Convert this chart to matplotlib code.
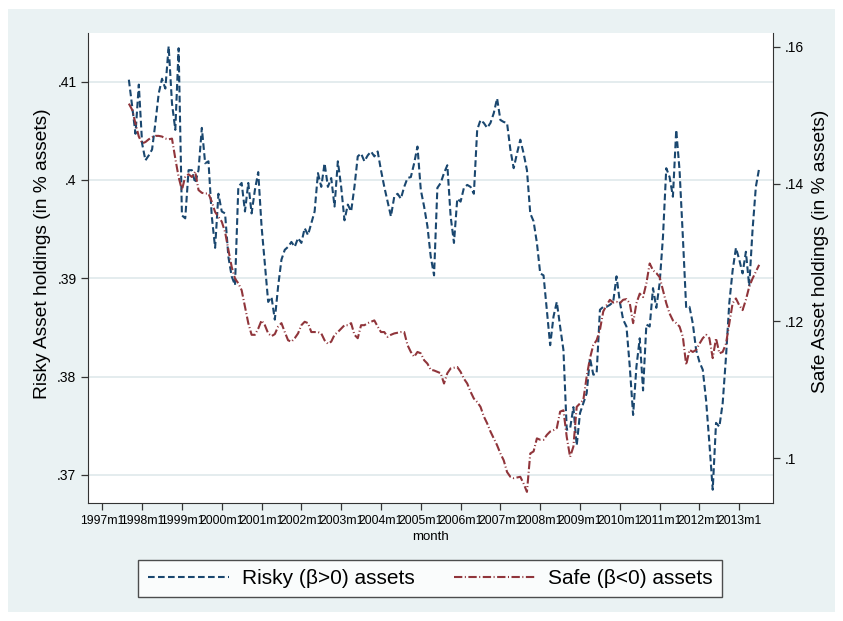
import pandas as pd
import matplotlib.pyplot as plt
from matplotlib.patches import Rectangle

plt.rcParams['font.family'] = ['Liberation Sans', 'DejaVu Sans']

# monthly observations, 1997m9 .. 2013m7
start_month = "1997-09"

risky = [
    .4102, .4075, .4047, .4097, .4037, .4020, .4025, .4031, .4058, .4088,
    .4103, .4093, .4136, .4078, .4051, .4134, .3964, .3961, .4010, .4010,
    .3997, .4010, .4053, .4017, .4019, .3963, .3931, .3986, .3968, .3966,
    .3922, .3902, .3893, .3993, .3997, .3968, .3997, .3966, .3990, .4008,
    .3953, .3915, .3876, .3881, .3858, .3892, .3919, .3929, .3932, .3937,
    .3932, .3941, .3936, .3951, .3944, .3956, .3968, .4007, .3993, .4017,
    .3993, .4002, .3973, .4019, .3993, .3959, .3975, .3968, .3993, .4024,
    .4027, .4019, .4025, .4029, .4024, .4029, .4010, .3993, .3978, .3963,
    .3983, .3986, .3981, .3993, .4002, .4003, .4017, .4034, .3990, .3973,
    .3953, .3922, .3903, .3992, .3997, .4007, .4015, .3963, .3936, .3981,
    .3978, .3992, .3995, .3993, .3986, .4051, .4061, .4058, .4053, .4058,
    .4068, .4083, .4061, .4059, .4058, .4031, .4012, .4027, .4041, .4027,
    .4010, .3966, .3958, .3936, .3905, .3903, .3868, .3832, .3861, .3876,
    .3851, .3827, .3746, .3747, .3769, .3730, .3763, .3773, .3783, .3819,
    .3802, .3803, .3868, .3871, .3871, .3873, .3876, .3902, .3876, .3858,
    .3851, .3810, .3761, .3810, .3839, .3786, .3853, .3851, .3890, .3870,
    .3895, .3942, .4012, .4003, .3983, .4051, .4010, .3942, .3870, .3871,
    .3854, .3827, .3815, .3807, .3776, .3732, .3685, .3753, .3749, .3773,
    .3820, .3875, .3908, .3931, .3919, .3905, .3927, .3892, .3949, .3993,
    .4012,
]

safe = [
    .1517, .1508, .1488, .1469, .1459, .1461, .1465, .1468, .1470, .1470,
    .1469, .1466, .1465, .1466, .1437, .1410, .1391, .1411, .1414, .1410,
    .1418, .1391, .1387, .1386, .1386, .1374, .1359, .1352, .1345, .1330,
    .1304, .1279, .1262, .1255, .1245, .1221, .1197, .1180, .1180, .1189,
    .1201, .1194, .1182, .1178, .1181, .1192, .1197, .1184, .1172, .1170,
    .1175, .1182, .1194, .1199, .1197, .1184, .1184, .1184, .1182, .1172,
    .1167, .1170, .1180, .1184, .1189, .1194, .1194, .1197, .1180, .1175,
    .1194, .1194, .1197, .1199, .1201, .1192, .1184, .1184, .1177, .1180,
    .1182, .1183, .1184, .1184, .1165, .1155, .1148, .1155, .1153, .1143,
    .1138, .1129, .1128, .1126, .1124, .1109, .1124, .1131, .1132, .1133,
    .1126, .1116, .1109, .1097, .1087, .1082, .1075, .1061, .1051, .1039,
    .1029, .1019, .1007, .0997, .0980, .0973, .0971, .0972, .0973, .0963,
    .0951, .1007, .1010, .1029, .1027, .1027, .1034, .1039, .1041, .1044,
    .1068, .1070, .1031, .1002, .1017, .1075, .1080, .1085, .1119, .1146,
    .1165, .1172, .1187, .1214, .1223, .1231, .1227, .1228, .1226, .1231,
    .1232, .1226, .1197, .1226, .1240, .1235, .1255, .1284, .1274, .1270,
    .1264, .1245, .1226, .1211, .1201, .1197, .1192, .1177, .1136, .1158,
    .1155, .1158, .1167, .1175, .1180, .1175, .1146, .1175, .1153, .1155,
    .1167, .1197, .1226, .1233, .1223, .1216, .1231, .1250, .1262, .1272,
    .1282,
]

tick_years = list(range(1997, 2014))
tick_labels = [f"{y}m1" for y in tick_years]
left_ticks = [.37, .38, .39, .40, .41]
left_labels = [".37", ".38", ".39", ".4", ".41"]
right_ticks = [.10, .12, .14, .16]
right_labels = [".1", ".12", ".14", ".16"]

months = pd.period_range(start_month, periods=len(risky), freq="M")
t = months.year + (months.month - 1) / 12

bg = "#EAF2F3"
navy = "#1A476F"
maroon = "#90353B"

fig = plt.figure(figsize=(8.43, 6.21), dpi=100)
fig.patches.append(Rectangle((8 / 843, 9 / 621), 827 / 843, 603 / 621,
                             transform=fig.transFigure, facecolor=bg,
                             edgecolor="none", zorder=-10))

ax = fig.add_axes([88.3 / 843, 1 - 503 / 621, (772.7 - 88.3) / 843, (503 - 32.7) / 621])
ax.set_facecolor("white")
for y in left_ticks:
    ax.axhline(y, color="#E4ECEE", lw=1.4, zorder=0)

l1, = ax.plot(t, risky, color=navy, lw=1.5, label="Risky (β>0) assets")
l1.set_dashes([3.2, 1.6])
ax.set_xlim(1996.648, 2013.84)
ax.set_ylim(0.36715, 0.41498)
ax.set_xticks(tick_years)
ax.set_xticklabels(tick_labels, fontsize=8.8)
ax.set_yticks(left_ticks)
ax.set_yticklabels(left_labels, fontsize=10)
ax.tick_params(axis="both", direction="out", length=5, width=0.9, color="#333333")
ax.set_xlabel("month", fontsize=9.5, labelpad=3)
ax.set_ylabel("Risky Asset holdings (in % assets)", fontsize=13.8)
ax.yaxis.set_label_coords(-0.055, 0.53)
ax.spines["top"].set_visible(False)
ax.spines["right"].set_visible(False)
ax.spines["left"].set_color("#333333")
ax.spines["bottom"].set_color("#333333")

ax2 = ax.twinx()
l2, = ax2.plot(t, safe, color=maroon, lw=1.5, label="Safe (β<0) assets")
l2.set_dashes([4, 1.2, 0.5, 1.2])
ax2.set_ylim(0.09348, 0.16204)
ax2.set_yticks(right_ticks)
ax2.set_yticklabels(right_labels, fontsize=10)
ax2.tick_params(axis="y", direction="out", length=5, width=0.9, color="#333333")
ax2.set_ylabel("Safe Asset holdings (in % assets)", fontsize=13.8)
ax2.yaxis.set_label_coords(1.058, 0.535)
for s in ["top", "left", "bottom"]:
    ax2.spines[s].set_visible(False)
ax2.spines["right"].set_color("#333333")

leg = fig.legend(handles=[l1, l2], loc="center", bbox_to_anchor=(430 / 843, 1 - 578.5 / 621),
                 ncol=2, fontsize=15, handlelength=3.9, handletextpad=0.6, columnspacing=1.9,
                 frameon=True, fancybox=False, edgecolor="#222222", borderpad=0.45)
leg.get_frame().set_linewidth(1.0)

fig.savefig("out.png", dpi=100, facecolor="white")
